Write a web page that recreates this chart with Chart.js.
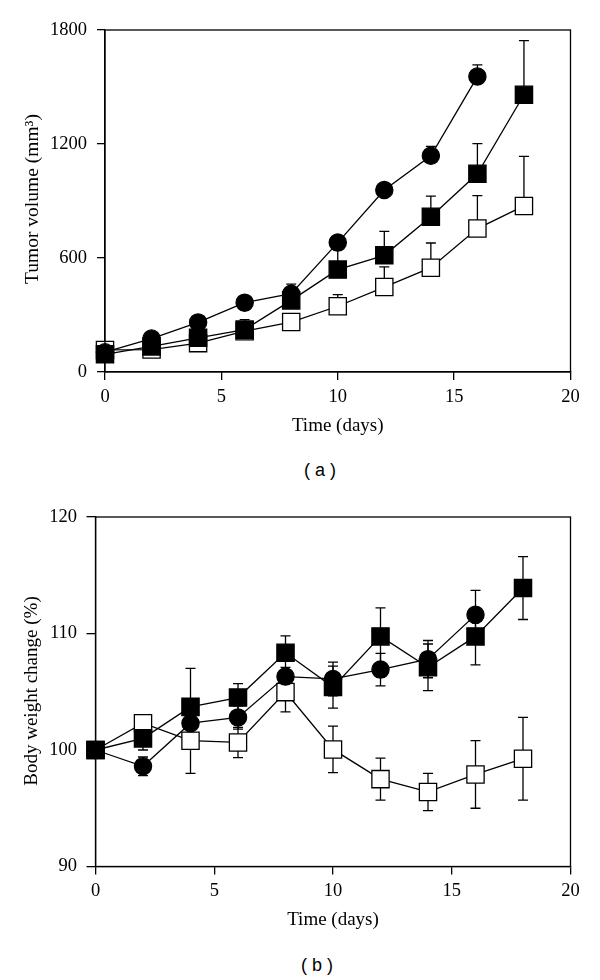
<!DOCTYPE html>
<html lang="en">
<head>
<meta charset="UTF-8">
<title>Tumor volume and body weight</title>
<style>
body {
    margin: 0;
    background: white;
    width: 600px;
    height: 980px;
    position: relative;
    overflow: hidden;
}
canvas {
    position: absolute;
    left: 0;
}
#chartA { top: 0; }
#chartB { top: 487px; }
.panel {
    position: absolute;
    font-family: "Liberation Sans", Arial, sans-serif;
    font-size: 18px;
    color: #000;
    white-space: pre;
}
#capA { top: 460px; left: 304px; }
#capB { top: 955px; left: 301px; }
</style>
</head>
<body>
<canvas id="chartA" width="600" height="450"></canvas>
<canvas id="chartB" width="600" height="460"></canvas>
<div class="panel" id="capA">( a )</div>
<div class="panel" id="capB">( b )</div>

<script src="https://cdn.jsdelivr.net/npm/chart.js"></script>
<script>
// days of measurement
const days = [0, 2, 4, 6, 8, 10, 12, 14, 16, 18];

// (a) tumor volume, mm3
const volCircle = [104, 176, 261, 365, 412, 681, 958, 1138, 1555, null];
const volFilled = [93, 135, 180, 223, 377, 539, 614, 817, 1043, 1459];
const volOpen   = [116, 118, 152, 215, 263, 346, 447, 549, 755, 874];
// upward error bars only
const volCircleErr = [0, 12, 15, 10, 50, 20, 36, 50, 61, null];
const volFilledErr = [0, 15, 20, 53, 40, 110, 126, 109, 159, 285];
const volOpenErr   = [0, 0, 0, 0, 25, 61, 106, 130, 173, 261];

// (b) body weight change, %
const bwCircle = [100, 98.6, 102.3, 102.8, 106.3, 106.1, 106.9, 107.8, 111.6, null];
const bwFilled = [100, 101.0, 103.7, 104.5, 108.35, 105.4, 109.75, 107.1, 109.75, 113.9];
const bwOpen   = [100, 102.3, 100.8, 100.65, 104.97, 100.05, 97.5, 96.4, 97.9, 99.25];
const bwCircleErr = [0, 0.8, 0.8, 1.0, 0.8, 1.45, 1.4, 1.6, 2.1, null];
const bwFilledErr = [0, 1.0, 3.3, 1.2, 1.45, 1.8, 2.45, 2.0, 2.45, 2.7];
const bwOpenErr   = [0, 0.5, 2.8, 1.3, 1.7, 2.0, 1.8, 1.6, 2.9, 3.55];

const xTicks = [0, 5, 10, 15, 20];
const volTicks = [0, 600, 1200, 1800];
const bwTicks = [90, 100, 110, 120];

const serif = '"Liberation Serif", "Times New Roman", serif';

function pts(vals) {
    return days.map((d, i) => ({ x: d, y: vals[i] }));
}

function series(vals, err, style) {
    const base = {
        data: pts(vals),
        err: err,
        borderColor: '#000',
        borderWidth: 1.3,
        pointBorderColor: '#000',
        pointBorderWidth: 1.3,
        clip: false,
        spanGaps: false
    };
    if (style === 'circle') {
        return Object.assign(base, { pointStyle: 'circle', pointRadius: 8.6, pointBackgroundColor: '#000' });
    }
    if (style === 'filled') {
        return Object.assign(base, { pointStyle: 'rect', pointRadius: 12.2, pointBackgroundColor: '#000' });
    }
    return Object.assign(base, { pointStyle: 'rect', pointRadius: 12.2, pointBackgroundColor: '#fff' });
}

// error bars drawn under the markers
const errorBars = {
    id: 'errorBars',
    beforeDatasetsDraw(chart, args, opts) {
        const { ctx } = chart;
        const y = chart.scales.y;
        ctx.save();
        ctx.strokeStyle = '#000';
        ctx.lineWidth = 1.3;
        chart.data.datasets.forEach((ds, di) => {
            const meta = chart.getDatasetMeta(di);
            ds.data.forEach((p, i) => {
                const e = ds.err[i];
                if (p.y == null || !e) return;
                const px = meta.data[i].x;
                const top = y.getPixelForValue(p.y + e);
                const bot = opts.twoSided ? y.getPixelForValue(p.y - e) : y.getPixelForValue(p.y);
                ctx.beginPath();
                ctx.moveTo(px, top);
                ctx.lineTo(px, bot);
                ctx.moveTo(px - 5, top);
                ctx.lineTo(px + 5, top);
                if (opts.twoSided) {
                    ctx.moveTo(px - 5, bot);
                    ctx.lineTo(px + 5, bot);
                }
                ctx.stroke();
            });
        });
        ctx.restore();
    }
};

// box round the plot area
const frame = {
    id: 'frame',
    afterDraw(chart) {
        const { ctx, chartArea: a } = chart;
        ctx.save();
        ctx.strokeStyle = '#000';
        ctx.lineWidth = 1.3;
        ctx.strokeRect(a.left, a.top, a.right - a.left, a.bottom - a.top);
        ctx.restore();
    }
};

// y title drawn by hand at a fixed spot
const yTitle = {
    id: 'yTitle',
    afterDraw(chart, args, opts) {
        const { ctx } = chart;
        ctx.save();
        ctx.translate(opts.x, opts.y);
        ctx.rotate(-Math.PI / 2);
        ctx.font = opts.size + 'px ' + serif;
        ctx.fillStyle = '#000';
        ctx.textAlign = 'center';
        ctx.textBaseline = 'middle';
        ctx.fillText(opts.text, 0, 0);
        ctx.restore();
    }
};

function makeChart(id, sets, yTicks, title, geo, twoSided) {
    return new Chart(document.getElementById(id), {
        type: 'line',
        data: { datasets: sets },
        options: {
            responsive: false,
            animation: false,
            layout: { padding: { top: geo.top, right: geo.right, left: 0, bottom: 0 } },
            plugins: {
                legend: { display: false },
                tooltip: { enabled: false },
                errorBars: { twoSided: twoSided },
                yTitle: { text: title, x: geo.tx, y: geo.ty, size: geo.ts }
            },
            scales: {
                x: {
                    type: 'linear',
                    min: 0, max: 20,
                    afterBuildTicks: s => { s.ticks = xTicks.map(v => ({ value: v })); },
                    afterFit: s => { s.height = geo.xh; },
                    grid: { drawOnChartArea: false, tickLength: 8, color: '#000', lineWidth: 1.3 },
                    border: { color: '#000', width: 1.3 },
                    ticks: { color: '#000', padding: 6, font: { family: serif, size: 18.5 }, callback: v => String(v) },
                    title: {
                        display: true, text: 'Time (days)', color: '#000',
                        font: { family: serif, size: 19 },
                        padding: { top: 0, bottom: geo.xtp }
                    }
                },
                y: {
                    min: yTicks[0], max: yTicks[yTicks.length - 1],
                    afterBuildTicks: s => { s.ticks = yTicks.map(v => ({ value: v })); },
                    afterFit: s => { s.width = geo.yw; },
                    grid: { drawOnChartArea: false, tickLength: geo.ytl, color: '#000', lineWidth: 1.3 },
                    border: { color: '#000', width: 1.3 },
                    ticks: { color: '#000', padding: geo.ypad, font: { family: serif, size: 18.5 }, callback: v => String(v) }
                }
            }
        },
        plugins: [errorBars, frame, yTitle]
    });
}

makeChart('chartA', [
    series(volCircle, volCircleErr, 'circle'),
    series(volFilled, volFilledErr, 'filled'),
    series(volOpen, volOpenErr, 'open')
], volTicks, 'Tumor volume (mm\u00b3)',
{ top: 30, right: 29.5, xh: 78, xtp: 12.5, yw: 105, ytl: 8, ypad: 10, tx: 33, ty: 199, ts: 19.5 }, false);

makeChart('chartB', [
    series(bwCircle, bwCircleErr, 'circle'),
    series(bwFilled, bwFilledErr, 'filled'),
    series(bwOpen, bwOpenErr, 'open')
], bwTicks, 'Body weight change (%)',
{ top: 30, right: 29.5, xh: 80.5, xtp: 15.5, yw: 95.5, ytl: 9, ypad: 9.5, tx: 32, ty: 691 - 487, ts: 19 }, true);
</script>
</body>
</html>
